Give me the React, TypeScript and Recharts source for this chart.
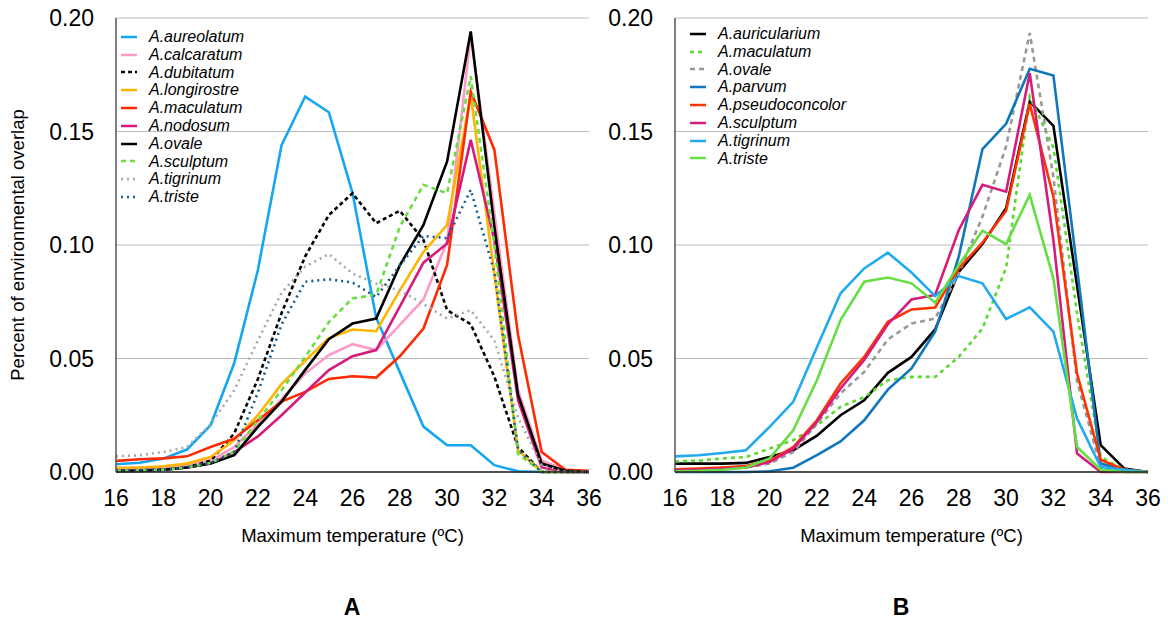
import React from 'react';
import { LineChart, Line, XAxis, YAxis, CartesianGrid } from 'recharts';

const TEMPS = [16, 17, 18, 19, 20, 21, 22, 23, 24, 25, 26, 27, 28, 29, 30, 31, 32, 33, 34, 35, 36];
const X_TICKS = [16, 18, 20, 22, 24, 26, 28, 30, 32, 34, 36];
const Y_TICKS = [0, 0.05, 0.1, 0.15, 0.2];

// Panel A
const A_AUREOLATUM = [0.0034, 0.0041, 0.0059, 0.0099, 0.0206, 0.048, 0.089, 0.144, 0.1654, 0.1585, 0.123, 0.068, 0.044, 0.02, 0.0118, 0.0118, 0.003, 0.0003, 0, 0, 0];
const A_CALCARATUM = [0.0015, 0.0018, 0.002, 0.003, 0.005, 0.011, 0.021, 0.032, 0.0434, 0.0515, 0.0563, 0.0537, 0.0648, 0.076, 0.1015, 0.1926, 0.114, 0.036, 0.005, 0.001, 0];
const A_DUBITATUM = [0.0007, 0.0008, 0.001, 0.002, 0.005, 0.017, 0.041, 0.07, 0.095, 0.1132, 0.1228, 0.1096, 0.1151, 0.1022, 0.0713, 0.0651, 0.042, 0.011, 0, 0, 0];
const A_LONGIROSTRE = [0.0019, 0.002, 0.0025, 0.0037, 0.0066, 0.014, 0.025, 0.0387, 0.049, 0.059, 0.0628, 0.062, 0.08, 0.097, 0.1088, 0.166, 0.087, 0.0096, 0, 0, 0];
const A_MACULATUM = [0.0049, 0.0056, 0.006, 0.0069, 0.011, 0.0147, 0.0228, 0.031, 0.0353, 0.041, 0.0422, 0.0416, 0.051, 0.0632, 0.0912, 0.1676, 0.1419, 0.0603, 0.0088, 0.001, 0.0005];
const A_NODOSUM = [0.0007, 0.0008, 0.001, 0.002, 0.0037, 0.0088, 0.0157, 0.025, 0.035, 0.0449, 0.051, 0.0537, 0.0728, 0.0922, 0.1007, 0.1463, 0.102, 0.0316, 0.002, 0, 0];
const A_OVALE = [0.0004, 0.0005, 0.001, 0.002, 0.0037, 0.0074, 0.0199, 0.031, 0.045, 0.0585, 0.0654, 0.0676, 0.091, 0.1088, 0.1368, 0.1941, 0.108, 0.034, 0.0037, 0.0005, 0];
const A_SCULPTUM = [0.0006, 0.0007, 0.001, 0.002, 0.004, 0.009, 0.0228, 0.036, 0.0507, 0.066, 0.0765, 0.078, 0.108, 0.1265, 0.1228, 0.1743, 0.1, 0.008, 0, 0, 0];
const A_TIGRINUM = [0.0069, 0.0074, 0.0088, 0.011, 0.021, 0.036, 0.058, 0.079, 0.0905, 0.096, 0.0875, 0.083, 0.08, 0.074, 0.0676, 0.0713, 0.058, 0.024, 0.003, 0, 0];
const A_TRISTE = [0.0007, 0.0008, 0.001, 0.002, 0.004, 0.009, 0.035, 0.065, 0.0838, 0.0849, 0.0835, 0.077, 0.091, 0.104, 0.103, 0.1243, 0.088, 0.01, 0, 0, 0];

// Panel B
const B_AURICULARIUM = [0.0037, 0.0037, 0.0037, 0.004, 0.0066, 0.0096, 0.016, 0.025, 0.0316, 0.0437, 0.0507, 0.0628, 0.0882, 0.1004, 0.1162, 0.1632, 0.1525, 0.082, 0.0118, 0.0015, 0];
const B_MACULATUM = [0.0047, 0.005, 0.006, 0.0066, 0.0103, 0.014, 0.0206, 0.0287, 0.033, 0.0404, 0.0419, 0.0419, 0.0507, 0.0632, 0.09, 0.1654, 0.143, 0.07, 0.0066, 0.001, 0];
const B_OVALE = [0.001, 0.0012, 0.0015, 0.002, 0.0037, 0.0088, 0.0213, 0.0346, 0.0441, 0.0584, 0.0654, 0.0676, 0.0875, 0.1125, 0.1434, 0.1934, 0.13, 0.04, 0.002, 0, 0];
const B_PARVUM = [0, 0, 0, 0, 0.0003, 0.0019, 0.0074, 0.0135, 0.0228, 0.0363, 0.0456, 0.0618, 0.095, 0.1422, 0.1534, 0.1776, 0.1747, 0.09, 0.0037, 0.001, 0];
const B_PSEUDOCONCOLOR = [0.0012, 0.0015, 0.002, 0.0026, 0.005, 0.011, 0.0228, 0.039, 0.0507, 0.0662, 0.0716, 0.0725, 0.0897, 0.101, 0.1151, 0.1622, 0.1213, 0.0434, 0.0054, 0.001, 0];
const B_SCULPTUM = [0.0007, 0.001, 0.0015, 0.002, 0.0044, 0.0103, 0.022, 0.0368, 0.0493, 0.0651, 0.076, 0.078, 0.1066, 0.1265, 0.1235, 0.1757, 0.1022, 0.0081, 0, 0, 0];
const B_TIGRINUM = [0.0069, 0.0074, 0.0084, 0.0096, 0.0199, 0.0309, 0.055, 0.0787, 0.0897, 0.0966, 0.0879, 0.0775, 0.0863, 0.0831, 0.0674, 0.0725, 0.0618, 0.0235, 0.0022, 0.001, 0];
const B_TRISTE = [0.0003, 0.0005, 0.001, 0.002, 0.006, 0.0184, 0.0404, 0.0669, 0.0838, 0.0857, 0.0831, 0.0746, 0.0912, 0.1063, 0.1004, 0.1221, 0.0853, 0.011, 0.001, 0, 0];

type Series = { key: string; name: string; values: number[]; color: string; dash?: string };

const SERIES_A: Series[] = [
  { key: 'aureolatum', name: 'A.aureolatum', values: A_AUREOLATUM, color: '#14A6F0' },
  { key: 'calcaratum', name: 'A.calcaratum', values: A_CALCARATUM, color: '#FF99C8' },
  { key: 'dubitatum', name: 'A.dubitatum', values: A_DUBITATUM, color: '#000000', dash: '4 3' },
  { key: 'longirostre', name: 'A.longirostre', values: A_LONGIROSTRE, color: '#FFB400' },
  { key: 'maculatum', name: 'A.maculatum', values: A_MACULATUM, color: '#FF2A00' },
  { key: 'nodosum', name: 'A.nodosum', values: A_NODOSUM, color: '#D61C7B' },
  { key: 'ovale', name: 'A.ovale', values: A_OVALE, color: '#000000' },
  { key: 'sculptum', name: 'A.sculptum', values: A_SCULPTUM, color: '#6CDC45', dash: '5 4' },
  { key: 'tigrinum', name: 'A.tigrinum', values: A_TIGRINUM, color: '#A8A8A8', dash: '2 4' },
  { key: 'triste', name: 'A.triste', values: A_TRISTE, color: '#165C8E', dash: '2 4' },
];

const SERIES_B: Series[] = [
  { key: 'auricularium', name: 'A.auricularium', values: B_AURICULARIUM, color: '#000000' },
  { key: 'maculatum', name: 'A.maculatum', values: B_MACULATUM, color: '#5CD82E', dash: '4 4' },
  { key: 'ovale', name: 'A.ovale', values: B_OVALE, color: '#999999', dash: '5 4' },
  { key: 'parvum', name: 'A.parvum', values: B_PARVUM, color: '#1177BB' },
  { key: 'pseudoconcolor', name: 'A.pseudoconcolor', values: B_PSEUDOCONCOLOR, color: '#FF3300' },
  { key: 'sculptum', name: 'A.sculptum', values: B_SCULPTUM, color: '#D61C7B' },
  { key: 'tigrinum', name: 'A.tigrinum', values: B_TIGRINUM, color: '#22AAEE' },
  { key: 'triste', name: 'A.triste', values: B_TRISTE, color: '#66DD44' },
];

const FONT = '"Liberation Sans", Arial, Helvetica, sans-serif';

function buildRows(series: Series[]) {
  return TEMPS.map((t, i) => {
    const row: Record<string, number> = { t };
    series.forEach((s) => {
      row[s.key] = s.values[i];
    });
    return row;
  });
}

function Legend({ series, left, top }: { series: Series[]; left: number; top: number }) {
  return (
    <div style={{ position: 'absolute', left, top, fontFamily: FONT, fontSize: 16, fontStyle: 'italic' }}>
      {series.map((s) => (
        <div key={s.key} style={{ display: 'flex', alignItems: 'center', height: 17.8 }}>
          <svg width={28} height={10} style={{ display: 'block' }}>
            <line x1={0} y1={5} x2={16} y2={5} stroke={s.color} strokeWidth={2.5} strokeDasharray={s.dash} />
          </svg>
          <span style={{ lineHeight: '17.8px' }}>{s.name}</span>
        </div>
      ))}
    </div>
  );
}

function Panel({ series, left, yWidth, rightMargin }: { series: Series[]; left: number; yWidth: number; rightMargin: number }) {
  const data = buildRows(series);
  return (
    <div style={{ position: 'absolute', left, top: 0 }}>
      <LineChart width={608} height={512} data={data} margin={{ top: 18, right: rightMargin, bottom: 0, left: 0 }} style={{ fontFamily: FONT }}>
        <CartesianGrid vertical={false} stroke="#BBBBBB" strokeWidth={1} />
        <XAxis
          dataKey="t"
          type="number"
          domain={[16, 36]}
          ticks={X_TICKS}
          interval={0}
          height={40}
          tickLine={false}
          tickSize={6}
          tickMargin={12}
          axisLine={{ stroke: '#222222', strokeWidth: 1.5 }}
          tick={{ fontSize: 23, fill: '#000000' }}
        />
        <YAxis
          type="number"
          domain={[0, 0.2]}
          ticks={Y_TICKS}
          width={yWidth}
          tickLine={false}
          tickSize={6}
          tickMargin={16}
          axisLine={{ stroke: '#555555', strokeWidth: 1.5 }}
          tick={{ fontSize: 23, fill: '#000000' }}
          tickFormatter={(v: number) => v.toFixed(2)}
        />
        {series.map((s) => (
          <Line
            key={s.key}
            type="linear"
            dataKey={s.key}
            stroke={s.color}
            strokeWidth={2.6}
            strokeDasharray={s.dash}
            dot={false}
            activeDot={false}
            isAnimationActive={false}
          />
        ))}
      </LineChart>
    </div>
  );
}

export default function App() {
  return (
    <div style={{ position: 'absolute', left: 0, top: 0, width: 1168, height: 619, background: '#ffffff', fontFamily: FONT, overflow: 'hidden' }}>
      <Panel series={SERIES_A} left={0} yWidth={116} rightMargin={19} />
      <Panel series={SERIES_B} left={560} yWidth={115} rightMargin={20} />
      <Legend series={SERIES_A} left={121} top={28} />
      <Legend series={SERIES_B} left={690} top={25} />
      <div
        style={{
          position: 'absolute',
          left: 18,
          top: 245,
          transform: 'translate(-50%, -50%) rotate(-90deg)',
          whiteSpace: 'nowrap',
          fontSize: 18.5,
        }}
      >
        Percent of environmental overlap
      </div>
      <div style={{ position: 'absolute', left: 116, width: 473, top: 525, textAlign: 'center', fontSize: 18.5, lineHeight: '22px' }}>
        Maximum temperature (ºC)
      </div>
      <div style={{ position: 'absolute', left: 675, width: 473, top: 525, textAlign: 'center', fontSize: 18.5, lineHeight: '22px' }}>
        Maximum temperature (ºC)
      </div>
      <div style={{ position: 'absolute', left: 332, width: 40, top: 595, textAlign: 'center', fontSize: 23, fontWeight: 'bold', lineHeight: '24px' }}>
        A
      </div>
      <div style={{ position: 'absolute', left: 881, width: 40, top: 595, textAlign: 'center', fontSize: 23, fontWeight: 'bold', lineHeight: '24px' }}>
        B
      </div>
    </div>
  );
}
